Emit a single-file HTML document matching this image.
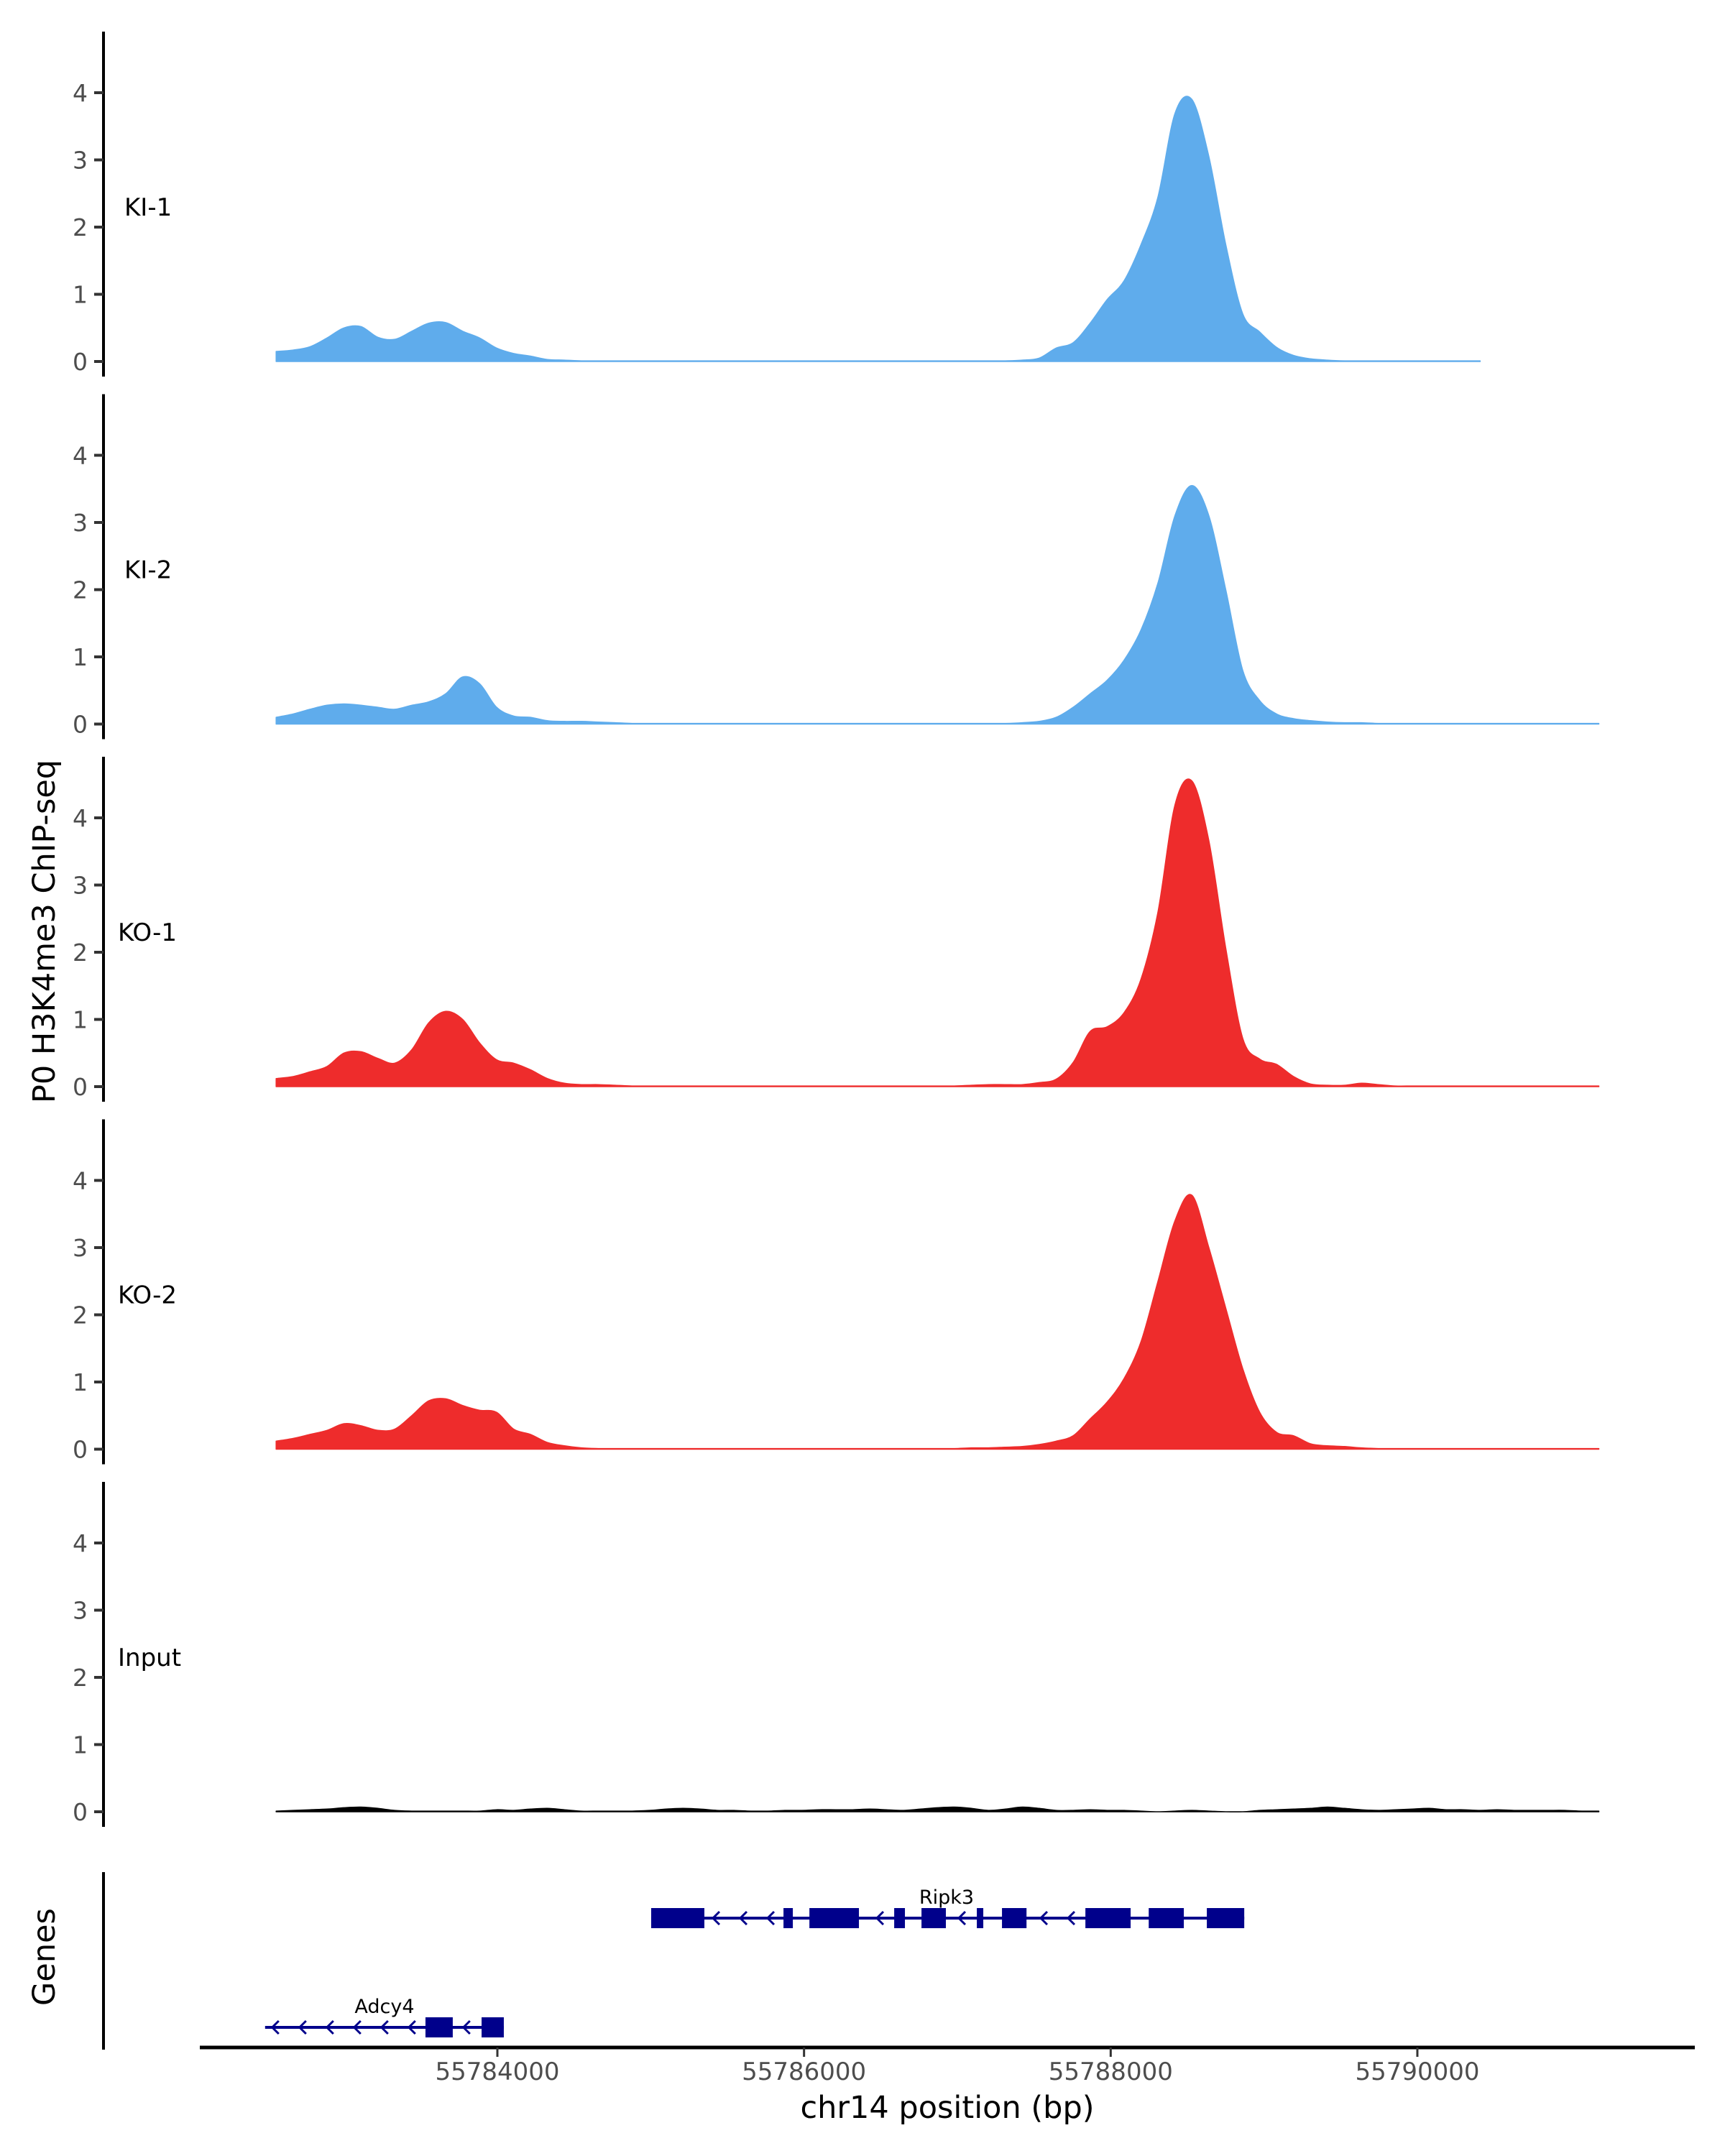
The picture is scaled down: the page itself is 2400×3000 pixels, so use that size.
<!DOCTYPE html>
<html><head><meta charset="utf-8">
<style>
html,body{margin:0;padding:0;background:#fff;}
svg{display:block;font-family:"DejaVu Sans","Liberation Sans",sans-serif;}
</style></head>
<body>
<svg id="chart" width="2400" height="3000" viewBox="0 0 2400 3000" xmlns="http://www.w3.org/2000/svg">
<text x="0" y="0" transform="translate(76,1296) rotate(-90)" text-anchor="middle" font-size="43" fill="#000">P0 H3K4me3 ChIP-seq</text>
<text x="0" y="0" transform="translate(76,2723) rotate(-90)" text-anchor="middle" font-size="43" fill="#000">Genes</text>
<text x="1318" y="2947" text-anchor="middle" font-size="43" fill="#000">chr14 position (bp)</text>
<g id="tracks"></g>
<g id="genes"></g>
<g id="xaxis"></g>
</svg>
<script>
const sampleNames = ["KI-1","KI-2","KO-1","KO-2","Input"];
const sampleColors = ["#5FACEC","#5FACEC","#EE2C2C","#EE2C2C","#000000"];
const yTicks = [0,1,2,3,4];
const xTicks = [55784000,55786000,55788000,55790000];
const ki1 = [0.15,0.17,0.22,0.35,0.5,0.52,0.36,0.33,0.45,0.57,0.58,0.45,0.35,0.2,0.12,0.08,0.03,0.02,0.01,0.01,
  0.01,0.01,0.01,0.01,0.01,0.01,0.01,0.01,0.01,0.01,0.01,0.01,0.01,0.01,0.01,0.01,0.01,0.01,0.01,0.01,
  0.01,0.01,0.01,0.01,0.02,0.05,0.2,0.28,0.57,0.92,1.2,1.74,2.45,3.69,3.9,3.05,1.74,0.71,0.44,0.21,
  0.09,0.04,0.02,0.01,0.01,0.01,0.01,0.01,0.01,0.01,0.01,0.01];
const ki2 = [0.1,0.15,0.22,0.28,0.3,0.28,0.25,0.22,0.28,0.33,0.45,0.7,0.6,0.25,0.12,0.1,0.05,0.04,0.04,0.03,
  0.02,0.01,0.01,0.01,0.01,0.01,0.01,0.01,0.01,0.01,0.01,0.01,0.01,0.01,0.01,0.01,0.01,0.01,0.01,0.01,
  0.01,0.01,0.01,0.01,0.02,0.04,0.1,0.25,0.45,0.65,0.95,1.4,2.1,3.1,3.55,3.1,2.0,0.8,0.35,0.15,
  0.08,0.05,0.03,0.02,0.02,0.01,0.01,0.01,0.01,0.01,0.01,0.01,0.01,0.01,0.01,0.01,0.01,0.01,0.01];
const ko1 = [0.12,0.15,0.22,0.3,0.5,0.52,0.42,0.35,0.55,0.95,1.12,1.0,0.65,0.4,0.35,0.25,0.12,0.05,0.03,0.03,
  0.02,0.01,0.01,0.01,0.01,0.01,0.01,0.01,0.01,0.01,0.01,0.01,0.01,0.01,0.01,0.01,0.01,0.01,0.01,0.01,
  0.01,0.02,0.03,0.03,0.03,0.06,0.11,0.36,0.82,0.89,1.1,1.6,2.6,4.19,4.55,3.66,2.06,0.72,0.41,0.33,
  0.15,0.04,0.02,0.02,0.05,0.03,0.01,0.01,0.01,0.01,0.01,0.01,0.01,0.01,0.01,0.01,0.01,0.01,0.01];
const ko2 = [0.12,0.16,0.22,0.28,0.38,0.35,0.28,0.3,0.5,0.72,0.75,0.65,0.58,0.55,0.3,0.22,0.1,0.05,0.02,0.01,
  0.01,0.01,0.01,0.01,0.01,0.01,0.01,0.01,0.01,0.01,0.01,0.01,0.01,0.01,0.01,0.01,0.01,0.01,0.01,0.01,
  0.01,0.02,0.02,0.03,0.04,0.07,0.12,0.2,0.45,0.7,1.05,1.6,2.5,3.4,3.78,3.0,2.1,1.2,0.55,0.25,
  0.2,0.08,0.05,0.04,0.02,0.01,0.01,0.01,0.01,0.01,0.01,0.01,0.01,0.01,0.01,0.01,0.01,0.01,0.01];
const inputTrack = [0.01,0.02,0.03,0.04,0.06,0.07,0.05,0.02,0.01,0.01,0.01,0.01,0.01,0.03,0.02,0.04,0.05,0.03,0.01,0.01,
  0.01,0.01,0.02,0.04,0.05,0.04,0.02,0.02,0.01,0.01,0.02,0.02,0.03,0.03,0.03,0.04,0.03,0.02,0.04,0.06,
  0.07,0.05,0.02,0.04,0.07,0.05,0.02,0.02,0.03,0.02,0.02,0.01,0.0,0.01,0.02,0.01,0.0,0.0,0.02,0.03,
  0.04,0.05,0.07,0.05,0.03,0.02,0.03,0.04,0.05,0.03,0.03,0.02,0.03,0.02,0.02,0.02,0.02,0.01,0.01];
const geneNames = ["Ripk3","Adcy4"];
const geneStarts = [55785003,55782485];
const geneEnds = [55788871,55784042];
const ripk3ExonStarts = [55785003,55785866,55786035,55786588,55786766,55787127,55787291,55787835,55788248,55788627];
const ripk3ExonEnds   = [55785350,55785927,55786358,55786658,55786925,55787169,55787451,55788130,55788477,55788871];
const adcy4ExonStarts = [55783531,55783897];
const adcy4ExonEnds   = [55783709,55784042];

const series = [ki1,ki2,ko1,ko2,inputTrack];
const NS="http://www.w3.org/2000/svg";
const xOf = bp => 692 + (bp-55784000)*0.21333;
const posOf = i => 55782557 + i*110.6;
const zeroOf = k => 503 + k*504.5;
const unit = 93.5;
function mk(tag, attrs, parent){const e=document.createElementNS(NS,tag);for(const k in attrs)e.setAttribute(k,attrs[k]);parent.appendChild(e);return e;}
function smoothPath(pts){
  let d='';
  for(let i=0;i<pts.length-1;i++){
    const p0=pts[Math.max(0,i-1)],p1=pts[i],p2=pts[i+1],p3=pts[Math.min(pts.length-1,i+2)];
    const t=0.5/3;
    let c1y=p1[1]+(p2[1]-p0[1])*t, c2y=p2[1]-(p3[1]-p1[1])*t;
    const c1x=p1[0]+(p2[0]-p0[0])*t, c2x=p2[0]-(p3[0]-p1[0])*t;
    d+=` C${c1x.toFixed(1)},${c1y.toFixed(1)} ${c2x.toFixed(1)},${c2y.toFixed(1)} ${p2[0].toFixed(1)},${p2[1].toFixed(1)}`;
  }
  return d;
}
const tracks=document.getElementById('tracks');
series.forEach((vals,k)=>{
  const z=zeroOf(k);
  const g=mk('g',{},tracks);
  
  
  const ax=mk('line',{x1:144,x2:144,y1:z-459,y2:z+21,stroke:'#000','stroke-width':4},g);
  
  
  yTicks.forEach(t=>{
    const y=z-t*unit;
    const tk=mk('line',{x1:131,x2:144,y1:y,y2:y,stroke:'#333','stroke-width':4},g);
    
    
    const tl=mk('text',{x:122,y:y+12,'text-anchor':'end','font-size':33,fill:'#4d4d4d'},g);
    tl.textContent=t;
    
    
  });
  const lab=mk('text',{x:(k>=2?164:173),y:z-2.3*unit+12,'font-size':34,fill:'#000'},g);
  lab.textContent=sampleNames[k];
  
  
  const pts=vals.map((v,i)=>[xOf(posOf(i)), z-v*unit]);
  let d='M'+pts[0][0].toFixed(1)+','+z+' L'+pts[0][0].toFixed(1)+','+pts[0][1].toFixed(1);
  d+=smoothPath(pts);
  d+=' L'+pts[pts.length-1][0].toFixed(1)+','+z+' Z';
  const a=mk('path',{d:d,fill:sampleColors[k],stroke:sampleColors[k],'stroke-width':1.5,'stroke-linejoin':'round'},g);
  
  
});
// genes
const gg=document.getElementById('genes');
const gax=mk('line',{x1:144,x2:144,y1:2605,y2:2852,stroke:'#000','stroke-width':4},gg);


const geneRowsY=[2669,2821];
const exS=[ripk3ExonStarts,adcy4ExonStarts], exE=[ripk3ExonEnds,adcy4ExonEnds];
geneNames.forEach((nm,gi)=>{
  const y=geneRowsY[gi];
  const g=mk('g',{},gg);
  
  
  const x1=xOf(geneStarts[gi]), x2=xOf(geneEnds[gi]);
  const ln=mk('line',{x1:x1,x2:x2,y1:y,y2:y,stroke:'#00008B','stroke-width':4},g);
  
  
  for(let x=x1+14;x<x2-10;x+=38){
    let inEx=false;
    exS[gi].forEach((s,j)=>{if(x>xOf(s)-12&&x<xOf(exE[gi][j])+8)inEx=true;});
    if(inEx)continue;
    const c=mk('path',{d:`M${x+5},${y-9} L${x-4},${y} L${x+5},${y+9}`,fill:'none',stroke:'#00008B','stroke-width':3},g);
    
    
  }
  exS[gi].forEach((s,j)=>{
    const r=mk('rect',{x:xOf(s),y:y-14,width:xOf(exE[gi][j])-xOf(s),height:28,fill:'#00008B'},g);
    
    
  });
  const t=mk('text',{x:(gi===0?1317:535),y:y-20,'text-anchor':'middle','font-size':27,fill:'#000'},g);
  t.textContent=nm;
  
  
});
// x axis
const xa=document.getElementById('xaxis');
const xl=mk('line',{x1:278,x2:2358,y1:2849,y2:2849,stroke:'#000','stroke-width':5},xa);


xTicks.forEach(t=>{
  const x=xOf(t);
  const tk=mk('line',{x1:x,x2:x,y1:2849,y2:2862,stroke:'#333','stroke-width':3},xa);
  
  
  const tl=mk('text',{x:x,y:2894,'text-anchor':'middle','font-size':34,fill:'#4d4d4d'},xa);
  tl.textContent=t;
  
  
});
</script>
</body></html>
